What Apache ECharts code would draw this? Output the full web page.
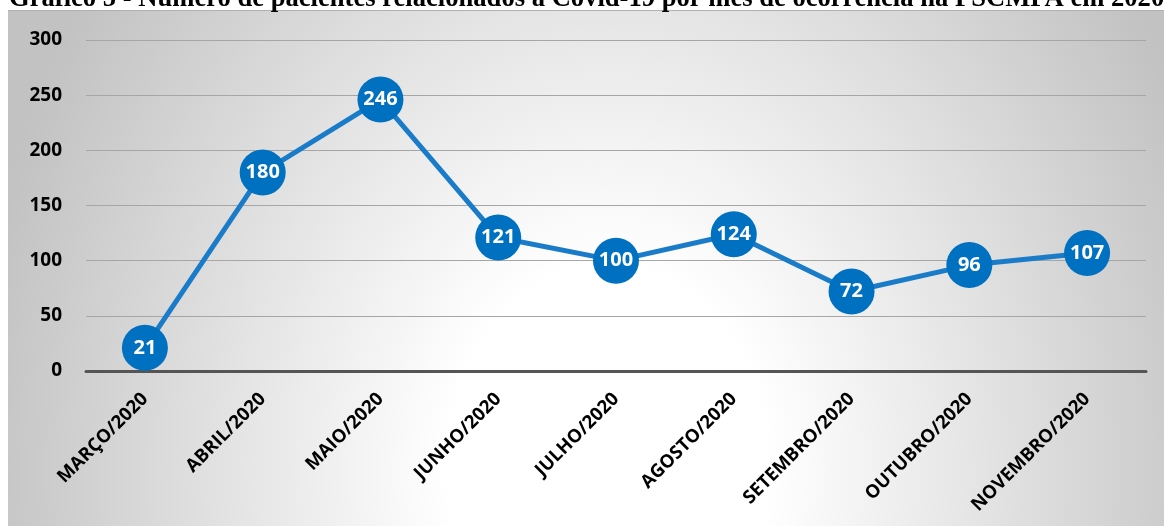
<!DOCTYPE html>
<html><head><meta charset="utf-8">
<script src="https://cdn.jsdelivr.net/npm/echarts@6/dist/echarts.min.js"></script>
<style>
html,body{margin:0;padding:0;background:#fff;}
#wrap{position:relative;width:1164px;height:526px;overflow:hidden;}
#bg{position:absolute;left:8px;top:10px;right:0;bottom:0;border-top:1px solid #b0b0b0;
background:radial-gradient(ellipse 640px 820px at 600px 460px, #ffffff 0%, #ffffff 25%, #c2c2c2 100%);}
#chart{position:absolute;left:0;top:0;width:1164px;height:526px;}
</style></head>
<body><div id="wrap"><div id="bg"></div><div id="chart"></div></div>
<script>
var titleText = 'Gráfico 5 - Número de pacientes relacionados à Covid-19 por mês de ocorrência na PSCMPA em 2020';
var categories = ['MARÇO/2020','ABRIL/2020','MAIO/2020','JUNHO/2020','JULHO/2020','AGOSTO/2020','SETEMBRO/2020','OUTUBRO/2020','NOVEMBRO/2020'];
var values = [21,180,246,121,100,124,72,96,107];
var yTicks = [0,50,100,150,200,250,300];

var chart = echarts.init(document.getElementById('chart'), null, {renderer:'canvas'});
chart.setOption({
  backgroundColor: 'transparent',
  animation: false,
  title: {
    text: titleText, left: 4, top: -19,
    textStyle: {fontFamily:'Liberation Serif', fontWeight:'bold', fontSize:26.6, color:'#000'}
  },
  grid: {left: 86, right: 18, top: 40, bottom: 155},
  xAxis: {
    type: 'category', data: categories, boundaryGap: true,
    axisLine: {show:true, lineStyle:{color:'#555', width:3}},
    axisTick: {show:false},
    axisLabel: {rotate:45, interval:0, color:'#000', fontFamily:'Open Sans', fontWeight:'bold', fontSize:18.5, margin:25}
  },
  yAxis: {
    type: 'value', min: yTicks[0], max: yTicks[yTicks.length-1], interval: 50,
    axisLine: {show:false}, axisTick: {show:false},
    splitLine: {lineStyle:{color:'#a6a6a6', width:1}},
    axisLabel: {color:'#000', fontFamily:'Open Sans', fontWeight:'bold', fontSize:19, margin:24}
  },
  series: [{
    type: 'line', data: values,
    symbol: 'circle', symbolSize: 46,
    lineStyle: {color:'#1a7cc9', width:5},
    itemStyle: {color:'#0070c0', borderColor:'#0070c0', borderWidth:0},
    label: {show:true, position:'inside', color:'#fff', fontFamily:'Open Sans', fontWeight:'bold', fontSize:20},
    z: 3
  }]
});
</script></body></html>
